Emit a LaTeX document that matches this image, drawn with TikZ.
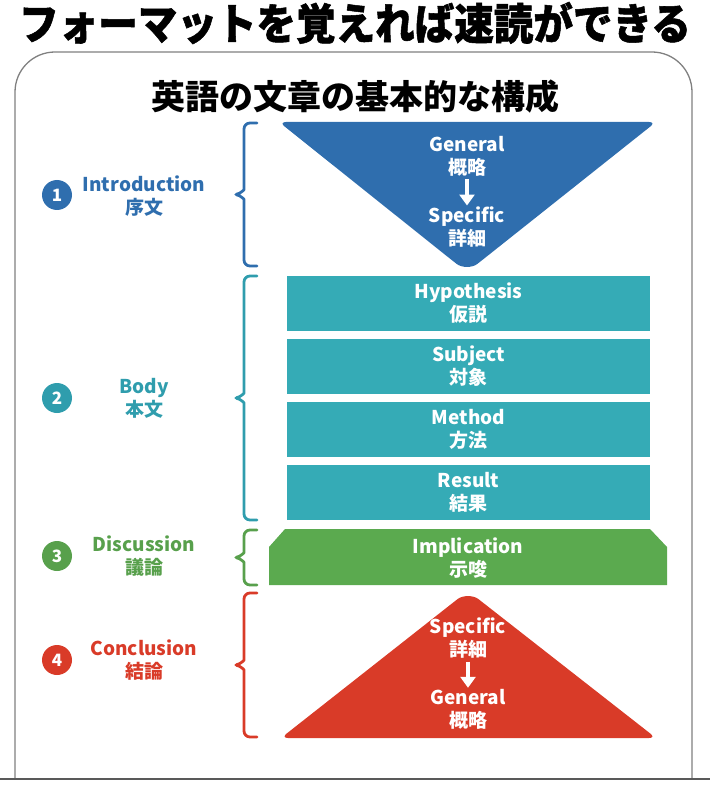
\documentclass[tikz,border=0pt]{standalone}
\usepackage{fontspec}
\setmainfont{Noto Sans CJK JP}
\newfontfamily\titlefont[FakeStretch=0.92, BoldFeatures={FakeBold=1.2}]{Noto Sans CJK JP}
\usetikzlibrary{arrows.meta,calc}
\definecolor{cblue}{HTML}{2F6EAE}
\definecolor{cteal}{HTML}{35ABB6}
\definecolor{ctealtx}{HTML}{2F9DAD}
\definecolor{cgreen}{HTML}{5BAA4F}
\definecolor{cgreentx}{HTML}{58A04C}
\definecolor{cred}{HTML}{D93B28}
\tikzset{
 frameline/.style={draw=black!50, line width=1.3pt},
 bottomline/.style={draw=black!65, line width=2pt},
 bracestyle/.style={line width=2.8pt, line cap=round, rounded corners=6pt},
 numcirc/.style={circle, fill=#1, minimum size=30pt, inner sep=0pt, text=white, font=\bfseries\fontsize{17}{17}\selectfont},
 sectlabel/.style={text=#1, font=\bfseries\fontsize{19}{23}\selectfont, align=center, inner sep=0pt},
 wtext/.style={text=white, font=\bfseries\fontsize{19}{23}\selectfont, align=center, inner sep=0pt},
 tealbox/.style={fill=cteal, minimum width=363pt, minimum height=55pt, inner sep=0pt, text=white, font=\bfseries\fontsize{19}{23}\selectfont, align=center},
 downarrow/.style={draw=white, line width=3.2pt, -{Triangle[width=15pt,length=11pt]}},
}
\newcommand{\curlybrace}[3]{% colour, top y, bottom y
  \pgfmathsetmacro{\bm}{(#2+#3)/2}
  \draw[bracestyle, draw=#1] (257,#2) -- (244,#2) -- (244,\bm-11)
     .. controls (244,\bm-4) and (239,\bm-1) .. (233,\bm)
     .. controls (239,\bm+1) and (244,\bm+4) .. (244,\bm+11)
     -- (244,#3) -- (257,#3);
}
\begin{document}
\begin{tikzpicture}[x=1pt,y=-1pt]
\useasboundingbox (0,0) rectangle (710,810);
% title
\node[font=\titlefont\bfseries\fontsize{43}{43}\selectfont, inner sep=0pt] (title) at (355,23) {フォーマットを覚えれば速読ができる};
% frame
\draw[frameline, rounded corners=40pt] (15,779) -- (15,52) -- (692,52) -- (692,779);
\draw[bottomline] (0,779) -- (710,779);
\node[font=\bfseries\fontsize{34}{34}\selectfont, inner sep=0pt] (sub) at (355,97) {英語の文章の基本的な構成};

% 1 Introduction
\fill[cblue, rounded corners=7pt] (467,122) -- (656,122) -- (482.7,259.7)
   .. controls (472.2,267.9) and (461.8,267.9) .. (451.3,259.7) -- (279,122) -- cycle;
\node[wtext] (b1g) at (467,156) {General\\概略};
\node[wtext] (b1s) at (467,227) {Specific\\詳細};
\draw[downarrow] ($(b1g.south)+(0,3)$) -- ($(b1s.north)+(0,-1)$);
\curlybrace{cblue}{123}{266}
\node[numcirc=cblue] (n1) at (57,195) {1};
\node[sectlabel=cblue] (l1) at (144,196) {Introduction\\序文};

% 2 Body
\node[tealbox] (r1) at (468.5,303.5) {Hypothesis\\仮説};
\node[tealbox] (r2) at (468.5,366.5) {Subject\\対象};
\node[tealbox] (r3) at (468.5,429.5) {Method\\方法};
\node[tealbox] (r4) at (468.5,492.5) {Result\\結果};
\curlybrace{ctealtx}{276}{520}
\node[numcirc=ctealtx] (n2) at (57,398) {2};
\node[sectlabel=ctealtx] (l2) at (144,398) {Body\\本文};

% 3 Discussion
\fill[cgreen] (285,529) -- (650,529) -- (667,547) -- (667,585) -- (269,585) -- (269,547) -- cycle;
\node[wtext] (imp) at (468,558) {Implication\\示唆};
\curlybrace{cgreentx}{530}{585}
\node[numcirc=cgreentx] (n3) at (57,556) {3};
\node[sectlabel=cgreentx] (l3) at (144,556) {Discussion\\議論};

% 4 Conclusion
\fill[cred, rounded corners=7pt] (468,738) -- (281,738) -- (452.2,603.3)
   .. controls (462.7,595.1) and (473.3,595.1) .. (483.8,603.3) -- (656,738) -- cycle;
\node[wtext] (c1s) at (468,638) {Specific\\詳細};
\node[wtext] (c1g) at (468,709) {General\\概略};
\draw[downarrow] ($(c1s.south)+(0,3)$) -- ($(c1g.north)+(0,-1)$);
\curlybrace{cred}{593}{737}
\node[numcirc=cred] (n4) at (57,660) {4};
\node[sectlabel=cred] (l4) at (144,660) {Conclusion\\結論};
\end{tikzpicture}
\end{document}
